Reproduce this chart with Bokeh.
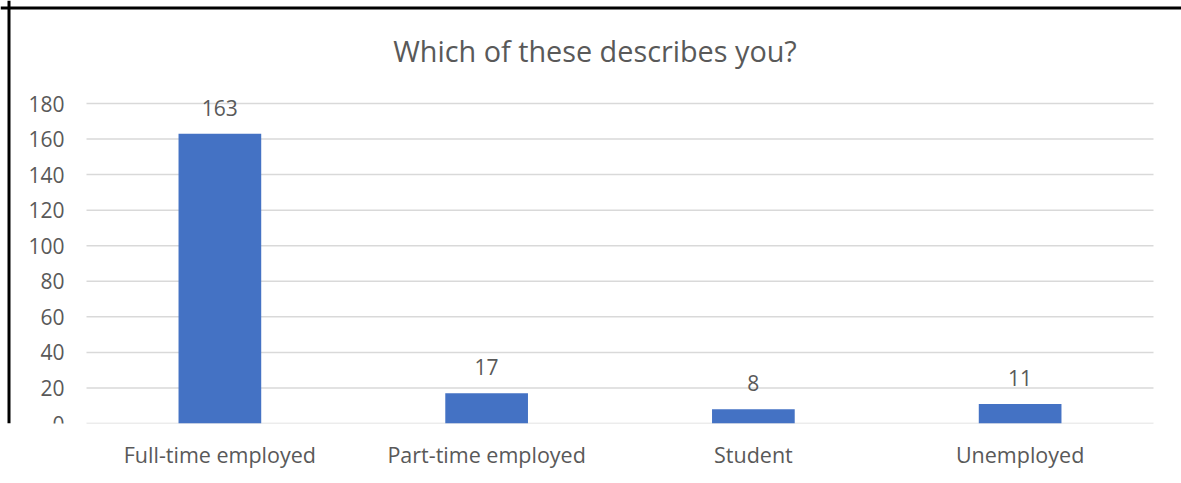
from bokeh.plotting import figure
from bokeh.models import (ColumnDataSource, LabelSet, Label, Range1d, FixedTicker, Span)
from bokeh.core.properties import value
from bokeh.embed import file_html
from bokeh.resources import INLINE

categories = ["Full-time employed", "Part-time employed", "Student", "Unemployed"]
counts = [163, 17, 8, 11]
y_ticks = [0, 20, 40, 60, 80, 100, 120, 140, 160, 180]
title_text = "Which of these describes you?"

FONT = "Open Sans"
TXT = "#595959"

# ---- layout (pixels) ----
W, H = 1181, 483
PLOT_L, PLOT_R = 86, 1153          # horizontal extent of the bar area
PLOT_B = 423                       # pixel row of value 0
PLOT_T = 103                       # pixel row of the top tick value
BOTTOM = H - PLOT_B                # space for category labels

n = len(categories)
kx = (PLOT_R - PLOT_L) / n                      # px per category
ky = (PLOT_B - PLOT_T) / y_ticks[-1]            # px per unit
x_start = -PLOT_L / kx
x_end = n + (W - PLOT_R) / kx
y_end = PLOT_B / ky

x_pos = [i + 0.5 for i in range(n)]
src = ColumnDataSource(dict(x=x_pos, val=counts, lbl=[str(v) for v in counts]))
tick_src = ColumnDataSource(dict(y=y_ticks, lbl=[str(t) for t in y_ticks],
                                 x0=[0] * len(y_ticks), x1=[n] * len(y_ticks)))

p = figure(x_range=Range1d(x_start, x_end), y_range=Range1d(0, y_end), width=W, height=H,
           output_backend="svg", toolbar_location=None, y_axis_location=None,
           min_border_left=0, min_border_right=0, min_border_top=0, min_border_bottom=BOTTOM)

# horizontal gridlines across the bar area only
p.segment(x0="x0", x1="x1", y0="y", y1="y", source=tick_src, line_color="#d9d9d9", line_width=1.5)

p.vbar(x="x", top="val", width=0.31, source=src, fill_color="#4472C4", line_color=None)

# value labels above the bars
p.add_layout(LabelSet(x="x", y="val", text="lbl", source=src, text_align="center",
                      text_baseline="middle", y_offset=26, text_font_size=value("21px"),
                      text_color=value(TXT), text_font=value(FONT)))

# y tick labels
p.add_layout(LabelSet(x="x0", y="y", text="lbl", source=tick_src, text_align="right",
                      text_baseline="middle", x_offset=-22, text_font_size=value("21px"),
                      text_color=value(TXT), text_font=value(FONT)))

# title
p.add_layout(Label(x=(x_start + x_end) / 2, y=y_ticks[-1], text=title_text, x_offset=4,
                   y_offset=53, text_align="center", text_baseline="middle",
                   text_font=FONT, text_font_size="28.8px", text_color=TXT))

# chart-area frame: black line on the left and top edges
p.add_layout(Span(location=x_start + 8.5 / kx, dimension="height",
                  line_color="black", line_width=3))
p.add_layout(Span(location=y_end - 7.5 / ky, dimension="width",
                  line_color="black", line_width=3))

# category axis
p.xaxis.ticker = FixedTicker(ticks=x_pos)
p.xaxis.major_label_overrides = {x: c for x, c in zip(x_pos, categories)}
p.xaxis.axis_line_color = None
p.xaxis.major_tick_line_color = None
p.xaxis.minor_tick_line_color = None
p.xaxis.major_label_text_font = FONT
p.xaxis.major_label_text_color = TXT
p.xaxis.major_label_text_font_size = "21.5px"
p.xaxis.major_label_standoff = 10

p.grid.visible = False
p.outline_line_color = None
p.background_fill_color = "white"
p.border_fill_color = "white"

open("out.html", "w").write(file_html(p, INLINE))
